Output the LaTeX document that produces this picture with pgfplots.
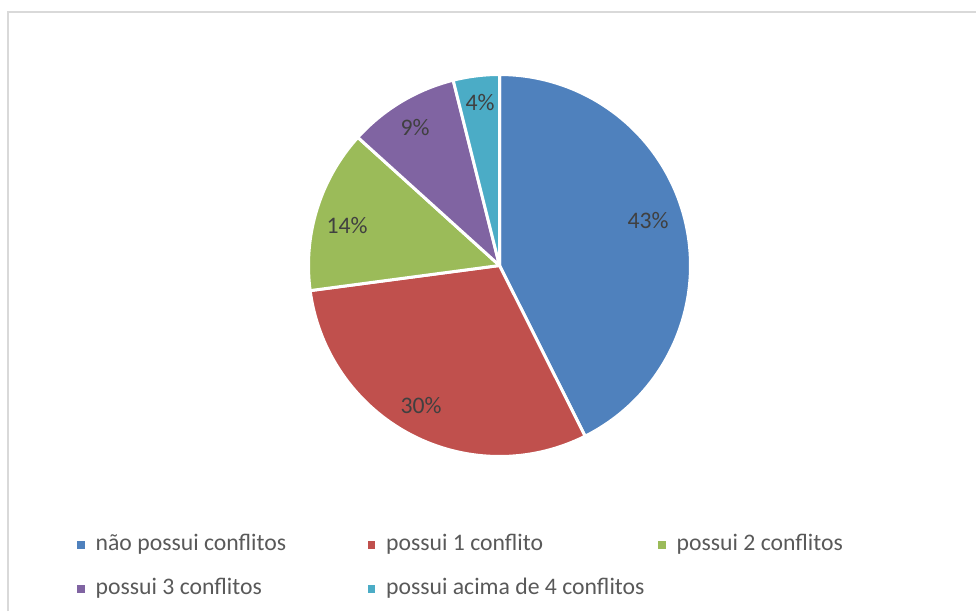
\documentclass[border=0pt]{standalone}
\usepackage{pgfplots}
\pgfplotsset{compat=1.18}
\usepackage{fontspec}
\setmainfont{Carlito}
\definecolor{cA}{HTML}{4F81BD}
\definecolor{cB}{HTML}{C0504D}
\definecolor{cC}{HTML}{9BBB59}
\definecolor{cD}{HTML}{8064A2}
\definecolor{cE}{HTML}{4BACC6}
\definecolor{legtext}{HTML}{595959}
\definecolor{labtext}{HTML}{404040}
\definecolor{frame}{HTML}{D9D9D9}
% shares in percent
\def\vA{42.6}\def\vB{30.3}\def\vC{13.8}\def\vD{9.4}\def\vE{3.9}
\begin{document}
\begin{tikzpicture}
\def\cx{499.5}\def\cy{345.5}\def\rr{191}
\pgfmathsetmacro\aA{90}
\pgfmathsetmacro\aB{\aA-3.6*\vA}
\pgfmathsetmacro\aC{\aB-3.6*\vB}
\pgfmathsetmacro\aD{\aC-3.6*\vC}
\pgfmathsetmacro\aE{\aD-3.6*\vD}
\pgfmathsetmacro\aF{\aE-3.6*\vE}
\begin{axis}[
  at={(0,0)}, anchor=south west, scale only axis,
  width=976pt, height=611pt,
  xmin=0, xmax=976, ymin=0, ymax=611,
  hide axis, clip=false,
  legend columns=3,
  legend image code/.code={\fill[#1,draw=none] (0pt,-3.75pt) rectangle (7.5pt,3.75pt); \path (17pt,0pt);},
  legend style={at={(axis cs:77,77.5)}, anchor=north west, draw=none, fill=none,
    inner sep=0pt, row sep=21pt, column sep=0pt,
    font=\fontsize{23.7}{28}\selectfont, text=legtext,
    nodes={inner sep=0pt, text height=17pt, text depth=6pt}},
  legend cell align=left,
]
\addplot[fill=cA, draw=white, line width=3pt, line join=round, domain=\aB:\aA, samples=90]
  ({\cx+\rr*cos(x)},{\cy+\rr*sin(x)}) -- (axis cs:\cx,\cy) -- cycle;
\addlegendentry{\makebox[272pt][l]{não possui conflitos}}
\addplot[fill=cB, draw=white, line width=3pt, line join=round, domain=\aC:\aB, samples=70]
  ({\cx+\rr*cos(x)},{\cy+\rr*sin(x)}) -- (axis cs:\cx,\cy) -- cycle;
\addlegendentry{\makebox[272pt][l]{possui 1 conflito}}
\addplot[fill=cC, draw=white, line width=3pt, line join=round, domain=\aD:\aC, samples=40]
  ({\cx+\rr*cos(x)},{\cy+\rr*sin(x)}) -- (axis cs:\cx,\cy) -- cycle;
\addlegendentry{\makebox[272pt][l]{possui 2 conflitos}}
\addplot[fill=cD, draw=white, line width=3pt, line join=round, domain=\aE:\aD, samples=30]
  ({\cx+\rr*cos(x)},{\cy+\rr*sin(x)}) -- (axis cs:\cx,\cy) -- cycle;
\addlegendentry{\makebox[272pt][l]{possui 3 conflitos}}
\addplot[fill=cE, draw=white, line width=3pt, line join=round, domain=\aF:\aE, samples=20]
  ({\cx+\rr*cos(x)},{\cy+\rr*sin(x)}) -- (axis cs:\cx,\cy) -- cycle;
\addlegendentry{\makebox[272pt][l]{possui acima de 4 conflitos}}
\begin{scope}[font=\fontsize{23.7}{28}\selectfont, text=labtext]
\node at (axis cs:648,390) {43\%};
\node at (axis cs:421,205) {30\%};
\node at (axis cs:347,385) {14\%};
\node at (axis cs:415,483) {9\%};
\node at (axis cs:480,508) {4\%};
\end{scope}
\draw[frame, line width=1.6pt] (axis cs:8,0) -- (axis cs:8,599) -- (axis cs:976,599);
\end{axis}
\pgfresetboundingbox
\path[use as bounding box] (0,0) rectangle (976pt,611pt);
\end{tikzpicture}
\end{document}
